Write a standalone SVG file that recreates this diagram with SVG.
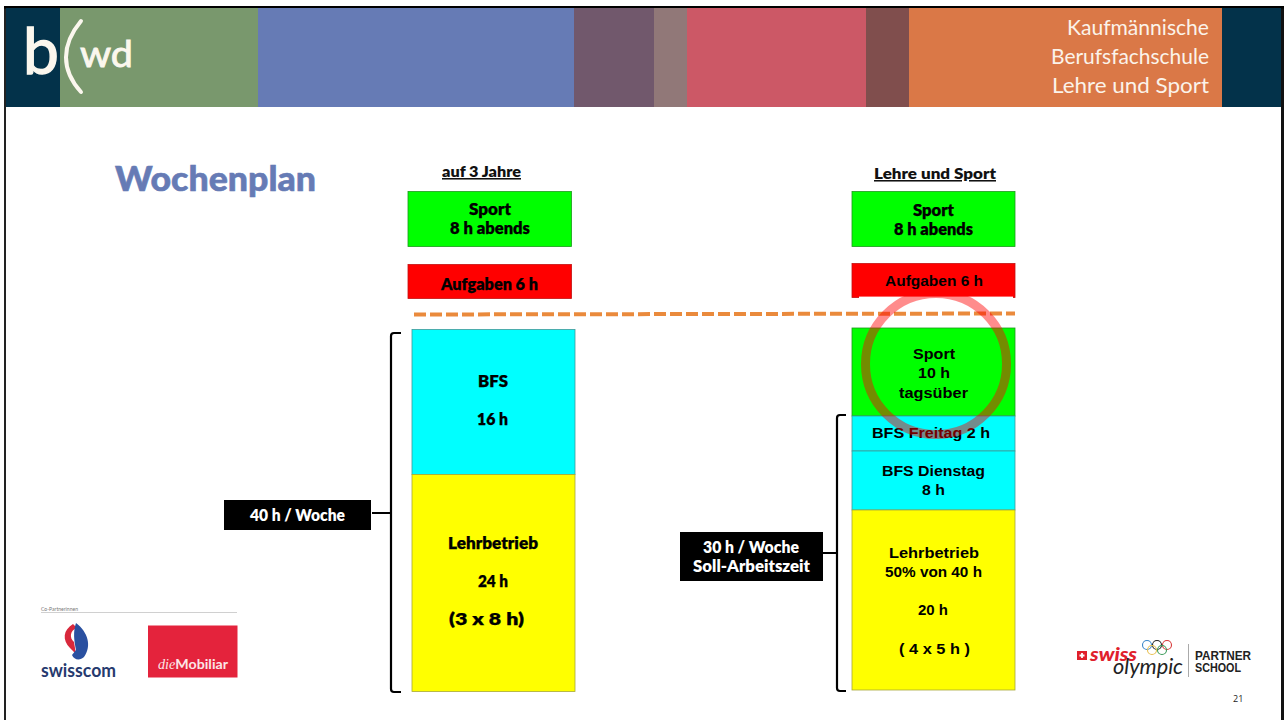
<svg xmlns="http://www.w3.org/2000/svg" width="1285" height="720" viewBox="0 0 1285 720">
<style>
.a{font-family:"Liberation Sans",Arial,sans-serif;font-weight:700;font-size:15.5px;fill:#000;text-anchor:middle}
.l{font-family:Lato,"Noto Sans",sans-serif;font-weight:800;font-size:16px;fill:#000;text-anchor:middle;stroke:#000;stroke-width:.25}
.h{font-family:Lato,"Noto Sans",sans-serif;font-size:21.5px;fill:#fbf3ea;text-anchor:end}
.w{font-family:Lato,"Noto Sans",sans-serif;font-weight:800;font-size:16px;fill:#fff;text-anchor:middle}
.u{font-family:Lato,"Noto Sans",sans-serif;font-weight:800;font-size:15.5px;fill:#111;text-anchor:middle;text-decoration:underline}
.br{fill:none;stroke:#000;stroke-width:2.2}
.cy{fill:#0ff;stroke:#3f9a9a;stroke-width:.8}.ye{fill:#ff0;stroke:#a8a838;stroke-width:.8}
.gr{fill:#0f0;stroke:#1c9a1c;stroke-width:.8}.re{fill:#f00;stroke:#c41010;stroke-width:.8}
</style>
<rect width="1285" height="720" fill="#fff"/>
<g id="frame">
<rect x="4" y="6" width="2" height="714" fill="#222"/>
<rect x="1281" y="6" width="3" height="714" fill="#111"/>
<rect x="4" y="6" width="1280" height="2.500" fill="#000"/>
</g>
<g id="band">
<rect x="6" y="8" width="54" height="99" fill="#03324a"/>
<rect x="60" y="8" width="198" height="99" fill="#79986d"/>
<rect x="258" y="8" width="316" height="99" fill="#667bb5"/>
<rect x="574" y="8" width="80" height="99" fill="#71586c"/>
<rect x="654" y="8" width="33" height="99" fill="#917878"/>
<rect x="687" y="8" width="179" height="99" fill="#cc5866"/>
<rect x="866" y="8" width="43" height="99" fill="#804e4d"/>
<rect x="909" y="8" width="313" height="99" fill="#da7847"/>
<rect x="1222" y="8" width="59" height="99" fill="#03324a"/>
<text x="23" y="74" font-family="Lato,'Noto Sans',sans-serif" font-size="64" fill="#fbf7ee" stroke="#fbf7ee" stroke-width="1.400">b</text>
<path d="M81 21C61 45 61 70 81 92" fill="none" stroke="#fbf7ee" stroke-width="4" stroke-linecap="round"/>
<text x="80" y="67" font-family="Lato,'Noto Sans',sans-serif" font-size="37" fill="#fbf7ee" stroke="#fbf7ee" stroke-width=".9" textLength="53" lengthAdjust="spacingAndGlyphs">wd</text>
<text class="h" x="1209" y="35" textLength="142" lengthAdjust="spacingAndGlyphs">Kaufmännische</text>
<text class="h" x="1209" y="64" textLength="158" lengthAdjust="spacingAndGlyphs">Berufsfachschule</text>
<text class="h" x="1209" y="93" textLength="157" lengthAdjust="spacingAndGlyphs">Lehre und Sport</text>
</g>
<text id="title" x="215.500" y="191" text-anchor="middle" font-family="Lato,'Noto Sans',sans-serif" font-size="35" font-weight="900" fill="#667bb5" stroke="#667bb5" stroke-width=".6" textLength="201" lengthAdjust="spacingAndGlyphs">Wochenplan</text>
<g id="left-column">
<text class="u" x="481.500" y="177" textLength="79" lengthAdjust="spacingAndGlyphs">auf 3 Jahre</text>
<g id="l-sport"><rect class="gr" x="408" y="191.500" width="163.500" height="55"/><text class="l" x="490" y="215" textLength="42" lengthAdjust="spacingAndGlyphs">Sport</text><text class="l" x="490" y="234" textLength="80" lengthAdjust="spacingAndGlyphs">8 h abends</text></g>
<g id="l-aufgaben"><rect class="re" x="408" y="264.500" width="163.500" height="34"/><text class="l" x="489.500" y="290" textLength="97" lengthAdjust="spacingAndGlyphs">Aufgaben 6 h</text></g>
<g id="l-bfs"><rect class="cy" x="412" y="329.500" width="163" height="145"/><text class="l" x="493" y="387" textLength="30" lengthAdjust="spacingAndGlyphs">BFS</text><text class="l" x="492.500" y="425" textLength="31" lengthAdjust="spacingAndGlyphs">16 h</text></g>
<g id="l-lehr"><rect class="ye" x="412" y="474.500" width="163" height="217"/><text class="l" x="493" y="549" textLength="90" lengthAdjust="spacingAndGlyphs">Lehrbetrieb</text><text class="l" x="493" y="587" textLength="30" lengthAdjust="spacingAndGlyphs">24 h</text><text class="l" x="486.500" y="625" textLength="75" lengthAdjust="spacingAndGlyphs">(3 x 8 h)</text></g>
</g>
<g id="right-column">
<text class="u" x="935" y="179" textLength="122" lengthAdjust="spacingAndGlyphs">Lehre und Sport</text>
<g id="r-sport"><rect class="gr" x="852" y="191.500" width="163" height="55"/><text class="l" x="933.500" y="216" textLength="41" lengthAdjust="spacingAndGlyphs">Sport</text><text class="l" x="933.500" y="235" textLength="79" lengthAdjust="spacingAndGlyphs">8 h abends</text></g>
<g id="r-aufgaben"><rect class="re" x="852" y="263.500" width="163" height="34"/><rect x="859" y="296.600" width="154" height="2" fill="#fff"/><text class="a" x="934" y="286" textLength="98" lengthAdjust="spacingAndGlyphs">Aufgaben 6 h</text></g>
<g id="r-sport2"><rect class="gr" x="852" y="328" width="163" height="88"/><text class="a" x="934" y="359" textLength="42" lengthAdjust="spacingAndGlyphs">Sport</text><text class="a" x="934" y="378" textLength="32" lengthAdjust="spacingAndGlyphs">10 h</text><text class="a" x="933.500" y="398" textLength="69" lengthAdjust="spacingAndGlyphs">tagsüber</text></g>
<g id="r-freitag"><rect class="cy" x="852" y="416" width="163" height="35"/><text class="a" x="931" y="438" textLength="118" lengthAdjust="spacingAndGlyphs">BFS Freitag 2 h</text></g>
<g id="r-dienstag"><rect class="cy" x="852" y="451" width="163" height="59"/><text class="a" x="933.500" y="476" textLength="103" lengthAdjust="spacingAndGlyphs">BFS Dienstag</text><text class="a" x="933.500" y="495" textLength="23" lengthAdjust="spacingAndGlyphs">8 h</text></g>
<g id="r-lehr"><rect class="ye" x="852" y="510" width="163" height="180"/><text class="a" x="934" y="558" textLength="90" lengthAdjust="spacingAndGlyphs">Lehrbetrieb</text><text class="a" x="933.500" y="577" textLength="97" lengthAdjust="spacingAndGlyphs">50% von 40 h</text><text class="a" x="933" y="615" textLength="30" lengthAdjust="spacingAndGlyphs">20 h</text><text class="a" x="934.500" y="654" textLength="71" lengthAdjust="spacingAndGlyphs">( 4 x 5 h )</text></g>
</g>
<g id="connectors">
<path class="br" d="M401 333H394Q391 333 391 336V689Q391 692 394 692H401M372 513H391"/>
<path class="br" d="M846 415H840Q837 415 837 418V688Q837 691 840 691H846M823 553H837"/>
<path d="M414 314.500L1015 313.500" fill="none" stroke="#ea8a3c" stroke-width="4" stroke-dasharray="12 4"/>
</g>
<circle id="highlight" cx="936" cy="364" r="70.500" fill="none" stroke="#f00" stroke-opacity=".45" stroke-width="9"/>
<g id="label-40"><rect x="224" y="500" width="147" height="30" fill="#000"/><text class="w" x="297.500" y="521" textLength="95" lengthAdjust="spacingAndGlyphs">40 h / Woche</text></g>
<g id="label-30"><rect x="680" y="532" width="143" height="49" fill="#000"/><text class="w" x="751" y="553" textLength="96" lengthAdjust="spacingAndGlyphs">30 h / Woche</text><text class="w" x="751.500" y="572" textLength="117" lengthAdjust="spacingAndGlyphs">Soll-Arbeitszeit</text></g>
<g id="partners">
<text x="41" y="611" font-family="Lato,sans-serif" font-size="5" fill="#777" textLength="37" lengthAdjust="spacingAndGlyphs">Co-Partnerinnen</text>
<path d="M41 612.500H237" stroke="#bbb" stroke-width=".7"/>
<path d="M73 624C63 630 62 640 70 648L76 654L74 642C69 638 70 630 77 628Z" fill="#d8283c"/>
<path d="M76 623C88 632 92 646 84 657C80 661 74 660 72 655L76 650C74 640 73 632 76 623Z" fill="#2a50a0"/>
<text x="78.500" y="677" text-anchor="middle" font-family="Lato,sans-serif" font-weight="700" font-size="18" fill="#263a6e" textLength="75" lengthAdjust="spacingAndGlyphs">swisscom</text>
<rect x="148" y="625.500" width="89.500" height="52" fill="#e4233c"/>
<text x="193" y="669" text-anchor="middle" font-size="14" fill="#fbe6e6" font-family="Lato,sans-serif" textLength="70" lengthAdjust="spacingAndGlyphs"><tspan font-family="Liberation Serif,serif" font-style="italic">die</tspan><tspan font-weight="700">Mobiliar</tspan></text>
</g>
<g id="swiss-olympic">
<rect x="1077" y="651" width="10" height="9" fill="#e0202c"/><path d="M1082 653V658M1079.500 655.500H1084.500" stroke="#fff" stroke-width="1.800"/>
<text x="1090" y="661" font-family="Lato,sans-serif" font-weight="900" font-style="italic" font-size="19" fill="#e0202c" textLength="47" lengthAdjust="spacingAndGlyphs">swiss</text>
<text x="1113" y="674" font-family="Lato,sans-serif" font-style="italic" font-size="21" fill="#222" textLength="70" lengthAdjust="spacingAndGlyphs">olympic</text>
<g fill="none" stroke-width="1.100"><circle cx="1147" cy="645" r="4.500" stroke="#3a86c8"/><circle cx="1157" cy="645" r="4.500" stroke="#222"/><circle cx="1167" cy="645" r="4.500" stroke="#d83a3a"/><circle cx="1152" cy="650" r="4.500" stroke="#e8c050"/><circle cx="1162" cy="650" r="4.500" stroke="#3a9a58"/></g>
<path d="M1188.500 644V677" stroke="#aaa" stroke-width="1"/>
<text x="1195" y="659.500" font-family="'Liberation Sans',sans-serif" font-weight="700" font-size="12.500" fill="#222" textLength="56" lengthAdjust="spacingAndGlyphs">PARTNER</text>
<text x="1195" y="671.500" font-family="'Liberation Sans',sans-serif" font-weight="700" font-size="12.500" fill="#222" textLength="46" lengthAdjust="spacingAndGlyphs">SCHOOL</text>
<text x="1233" y="702" font-family="'Open Sans',sans-serif" font-size="9" fill="#222">21</text>
</g>
</svg>
